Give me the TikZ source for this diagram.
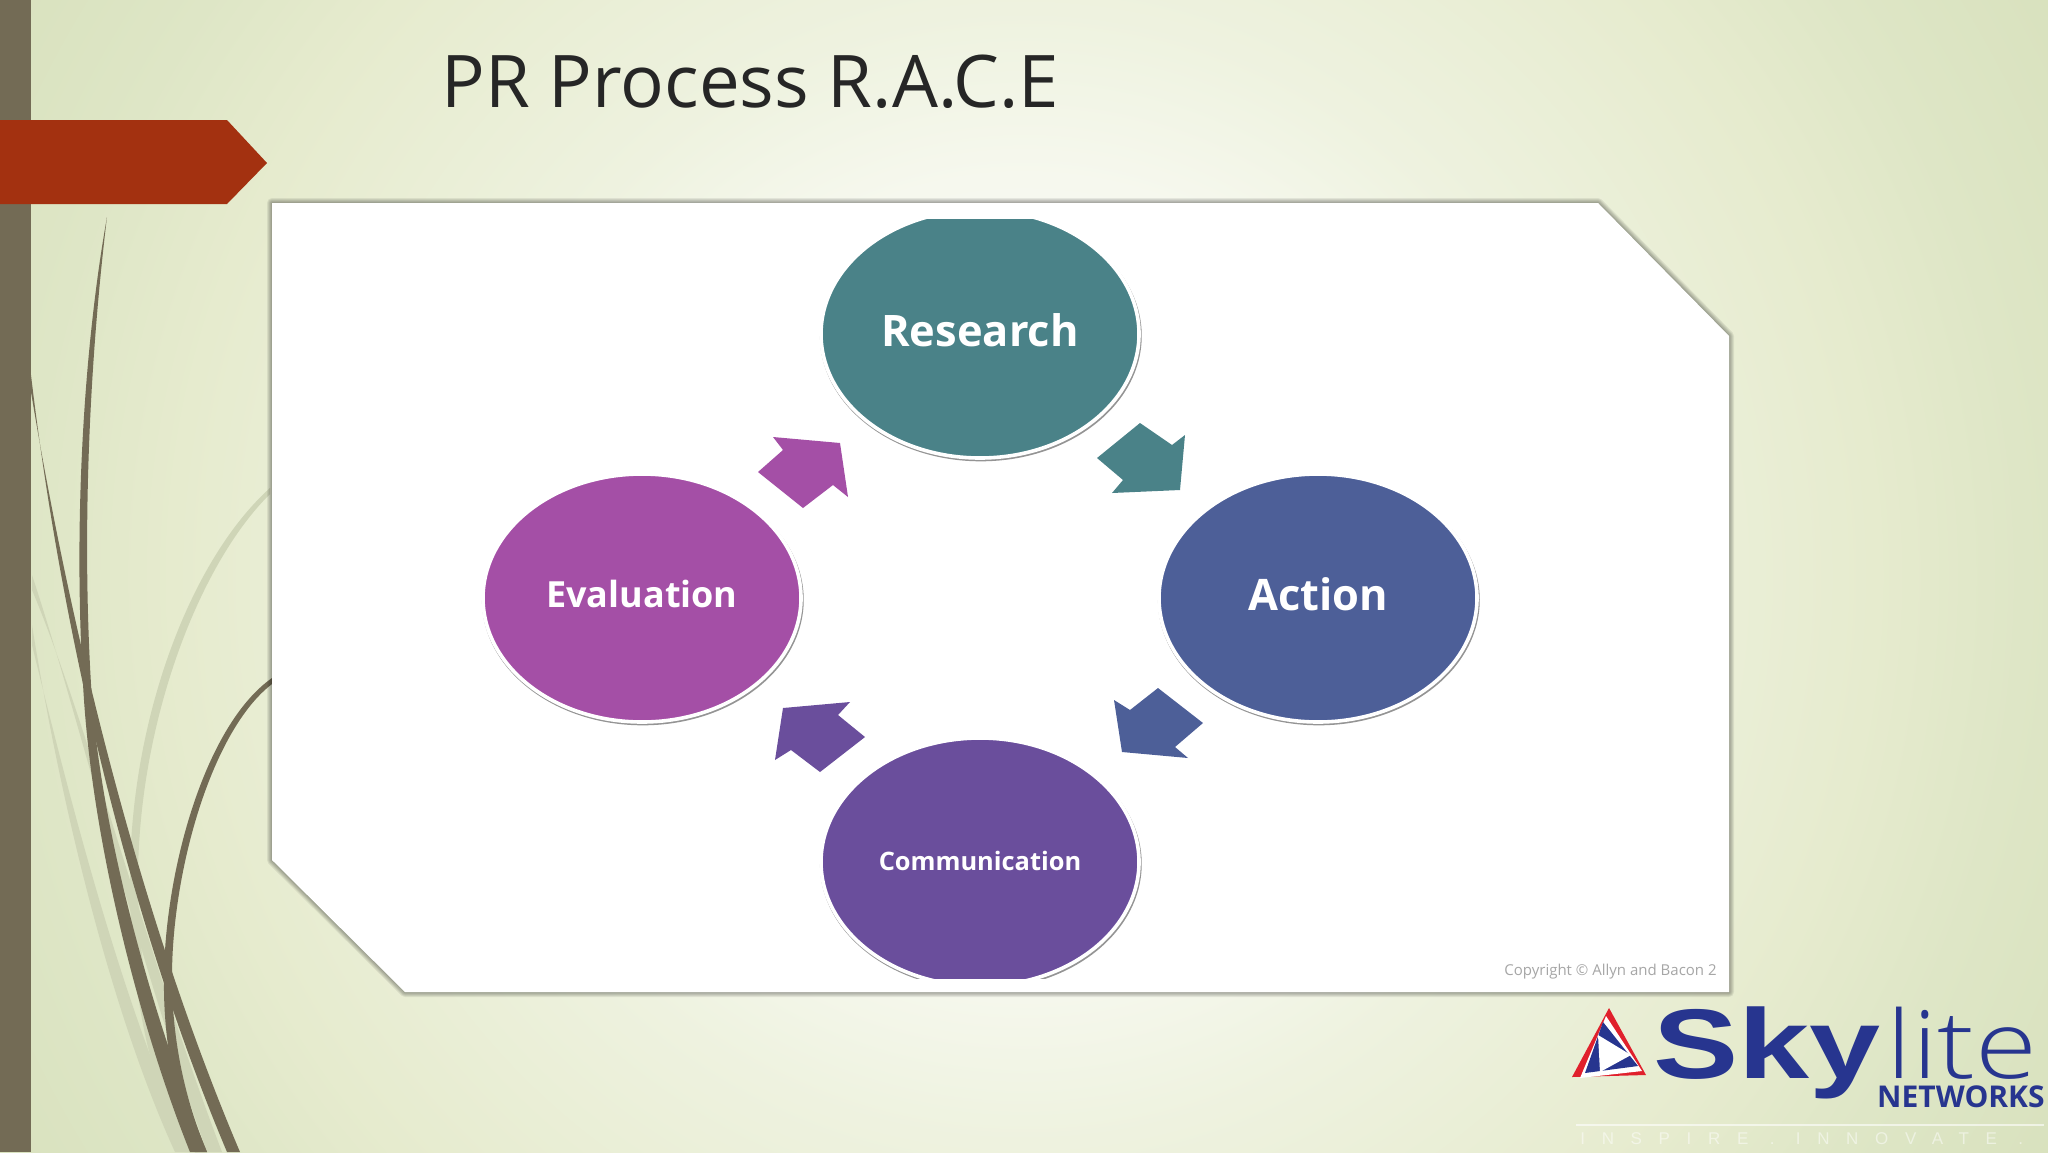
\documentclass[tikz,border=0pt]{standalone}
\usepackage{fontspec}
\setmainfont{Open Sans}
\newfontfamily\logofont{Liberation Sans}
\newfontfamily\litefont{Open Sans Light}
\usetikzlibrary{shapes.geometric,shadows}

\definecolor{barcol}{HTML}{736B55}
\definecolor{redcol}{HTML}{A33110}
\definecolor{researchcol}{HTML}{4A8288}
\definecolor{actioncol}{HTML}{4D5F98}
\definecolor{commcol}{HTML}{6A4E9C}
\definecolor{evalcol}{HTML}{A44FA6}
\definecolor{logoblue}{HTML}{27358F}
\definecolor{logored}{HTML}{E0202C}
\definecolor{bgzero}{HTML}{FFFFFF}
\definecolor{bgone}{HTML}{F6F8EE}
\definecolor{bgtwo}{HTML}{EEF2DF}
\definecolor{bgthree}{HTML}{E6EBCE}
\definecolor{bgfour}{HTML}{DEE6C6}
\definecolor{bgfive}{HTML}{D8E1BD}
\definecolor{strandlight}{HTML}{CFD5B7}

% the shaded path fills the middle 50bp of a shading, so 25bp is its edge
\pgfdeclareradialshading{slidebg}{\pgfpoint{0bp}{0bp}}{color(0bp)=(bgzero); color(8.33bp)=(bgone); color(11.8bp)=(bgtwo); color(17.7bp)=(bgthree); color(20.8bp)=(bgfour); color(25bp)=(bgfive); color(50bp)=(bgfive)}

\tikzset{
  strand/.style={fill=barcol},
  strandpale/.style={fill=strandlight},
  circlenode/.style={ellipse, draw=white, line width=1.8pt, inner sep=0pt,
    minimum width=159pt, minimum height=124pt, text=white, text depth=4pt,
    font=\bfseries\fontsize{21.7}{24}\selectfont,
    general shadow={fill=black!42, shadow scale=1.012, shadow xshift=0.4pt, shadow yshift=-0.9pt}},
  blockarrow/.style={line join=round}
}

\begin{document}
\begin{tikzpicture}[x=0.5pt,y=-0.5pt]
  \useasboundingbox (0,0) rectangle (2048,1152);
  \begin{scope}
    \clip (0,0) rectangle (2048,1152);
    \shade[shading=slidebg] (-176,-624) rectangle (2224,1776);
  \end{scope}

  % grass strands
  \fill[strandpale] (270,488) .. controls (190,560) and (130,720) .. (130,880) .. controls (130,960) and (140,1060) .. (185,1152)
    -- (197,1152) .. controls (152,1060) and (138,960) .. (138,880) .. controls (138,725) and (198,565) .. (270,494) -- cycle;
  \fill[strandpale] (32,575) .. controls (80,720) and (135,950) .. (207,1152)
    -- (222,1152) .. controls (145,950) and (87,720) .. (32,590) -- cycle;
  \fill[strandpale] (32,625) .. controls (60,800) and (110,1010) .. (175,1152)
    -- (190,1152) .. controls (122,1005) and (70,800) .. (32,645) -- cycle;
  \fill[strand] (107,217) .. controls (85,340) and (72,520) .. (84,700) .. controls (95,860) and (145,1040) .. (190,1152)
    -- (207,1152) .. controls (165,1050) and (105,860) .. (92,700) .. controls (80,520) and (92,340) .. (107,217) -- cycle;
  \fill[strand] (31,375) .. controls (60,620) and (125,910) .. (227,1152)
    -- (240,1152) .. controls (135,905) and (68,615) .. (31,392) -- cycle;
  \fill[strand] (272,678) .. controls (205,725) and (165,870) .. (164,977) .. controls (163,1040) and (175,1100) .. (195,1152)
    -- (207,1152) .. controls (185,1100) and (172,1040) .. (172,977) .. controls (172,870) and (212,730) .. (272,684) -- cycle;

  % left bar and red tab
  \fill[barcol] (0,0) rectangle (31,1152);
  \fill[redcol] (0,120) -- (227,120) -- (267,163) -- (227,204) -- (0,204) -- cycle;

  \node[anchor=base west, text=black!85, font=\fontsize{36.3}{40}\selectfont, inner sep=0pt] (title) at (441,107) {PR Process R.A.C.E};

  % picture
  \foreach \w in {2,4,6,8,10}
    \draw[black, opacity=0.07, line width=\w*0.5pt, line join=round] (272,203) -- (1598,203) -- (1729,336) -- (1729,992) -- (405,992) -- (272,860) -- cycle;
  \fill[white] (272,203) -- (1598,203) -- (1729,336) -- (1729,992) -- (405,992) -- (272,860) -- cycle;

  \begin{scope}
    \clip (272,219) rectangle (1729,978);
    \node[circlenode, fill=researchcol] (research) at (980,334) {Research};
    \node[circlenode, fill=actioncol] (action) at (1318,598) {Action};
    \node[circlenode, fill=commcol, text depth=1.5pt, font=\bfseries\fontsize{12.7}{16}\selectfont] (communication) at (980,862) {Communication};
    \node[circlenode, fill=evalcol, font=\bfseries\fontsize{18}{22}\selectfont] (evaluation) at (642,598) {Evaluation};
  \end{scope}

  % block arrows between the circles
  \fill[blockarrow, researchcol] (1097,458) -- (1140,423) -- (1172,445) -- (1185,435) -- (1180,490) -- (1112,493) -- (1123,480) -- cycle;
  \fill[blockarrow, actioncol] (1158,688) -- (1203,723) -- (1175,747) -- (1188,758) -- (1122,752) -- (1114,700) -- (1130,710) -- cycle;
  \fill[blockarrow, commcol] (865,737) -- (820,772) -- (791,750) -- (775,760) -- (783,708) -- (850,702) -- (838,715) -- cycle;
  \fill[blockarrow, evalcol] (758,472) -- (783,450) -- (773,437) -- (840,443) -- (848,497) -- (833,485) -- (803,508) -- cycle;

  \node[anchor=base east, text=black!35, font=\fontsize{7.5}{8}\selectfont, inner sep=0pt] (copyright) at (1717,975) {Copyright © Allyn and Bacon 2};

  % logo
  \fill[logored] (1609,1008) -- (1646,1075) -- (1572,1077) -- cycle;
  \fill[white] (1606,1016) -- (1642,1071) -- (1580,1078) -- cycle;
  \fill[logoblue] (1603,1022) -- (1638,1066) -- (1585,1073) -- cycle;
  \fill[white] (1598,1035) -- (1631,1055) -- (1600,1072) -- cycle;
  \node[anchor=base west, inner sep=0pt, text=logoblue, xscale=1.29, font=\logofont\bfseries\fontsize{49.5}{50}\selectfont] (sky) at (1653,1078) {Sky};
  \node[anchor=base west, inner sep=0pt, text=logoblue, xscale=1.2, font=\litefont\fontsize{47}{50}\selectfont] (lite) at (1886,1078) {lite};
  \node[anchor=base east, inner sep=0pt, text=logoblue, font=\bfseries\fontsize{15}{16}\selectfont] (networks) at (2045,1107) {NETWORKS};
  \coordinate (rulestart) at (1576,1125);
  \coordinate (ruleend) at (2044,1125);
  \draw[white, opacity=0.6, line width=0.8pt] (rulestart) -- (ruleend);
  \node[anchor=base west, inner sep=0pt, text=white, opacity=0.5, font=\logofont\fontsize{8.5}{10}\selectfont] (tagline) at (1580,1144) {\addfontfeature{LetterSpace=98}INSPIRE . INNOVATE .};
\end{tikzpicture}
\end{document}
